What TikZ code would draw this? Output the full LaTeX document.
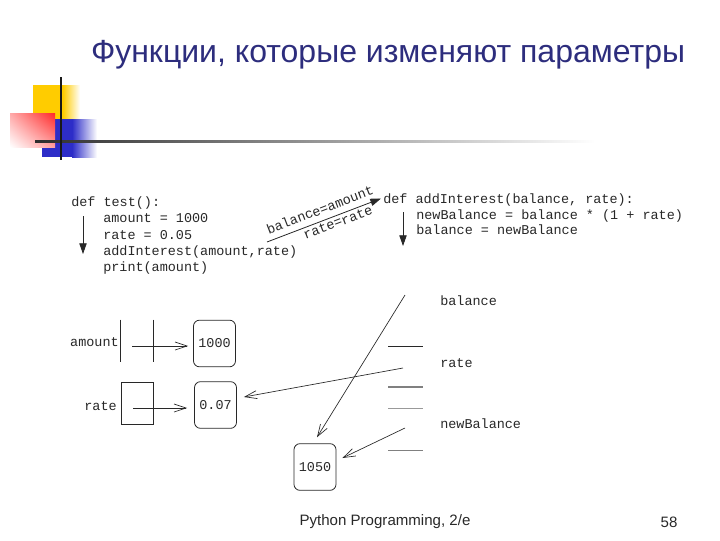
\documentclass[tikz,border=0pt]{standalone}
\usepackage{fontspec}
\setmainfont{Liberation Sans}
\newfontfamily\codefont{Liberation Mono}
\usetikzlibrary{arrows.meta,calc,shadings}
\definecolor{titleblue}{RGB}{45,45,125}
\definecolor{sqyellow}{RGB}{255,204,0}
\definecolor{sqred}{RGB}{255,40,40}
\definecolor{sqblue}{RGB}{45,45,200}
\definecolor{ink}{RGB}{40,40,40}
\begin{document}
\begin{tikzpicture}[x=0.75pt,y=-0.75pt,
  codefnt/.style={font=\codefont\fontsize{10.1}{12}\selectfont, text=ink, inner sep=0pt},
  code/.style={codefnt, anchor=base west},
  fillarrow/.style={draw=ink, line width=0.6pt, -{Triangle[length=8pt,width=5.5pt]}},
  openarrow/.style={draw=ink, line width=0.5pt, -{Straight Barb[length=9pt,width=6pt]}},
  valbox/.style={codefnt, draw=ink, line width=0.6pt, rounded corners=4.5pt, minimum width=31.5pt, minimum height=35pt},
  varbox/.style={inner sep=0pt, minimum width=24pt, minimum height=31.5pt},
  edge/.style={line width=0.6pt},
  foottext/.style={font=\fontsize{11.3}{13}\selectfont, text=ink}
]
\useasboundingbox (0,0) rectangle (720,540);
% decoration
\fill[sqyellow] (33,85) rectangle (63,120);
\shade[left color=sqyellow, right color=white] (63,85) rectangle (80,120);
\fill[sqblue] (42,119) rectangle (72,157);
\shade[left color=sqblue, right color=white] (72,119) rectangle (97,157);
\shade[upper left=sqred!40, upper right=sqred, lower left=white, lower right=sqred!45] (10,113) rectangle (55,147);
\shade[left color={rgb,255:red,45;green,45;blue,45}, middle color=gray!85, right color=white] (35,140) rectangle (595,142.2);
\draw[line width=2pt, black!90] (61,77) -- (61,160);
% title
\node[font=\fontsize{24}{28}\selectfont, text=titleblue, anchor=base, inner sep=0pt] (title) at (388,62) {Функции, которые изменяют параметры};
% left code
\node[code] (t1) at (71,206) {def test():};
\node[code] (t2) at (103,222) {amount = 1000};
\node[code] (t3) at (103,239) {rate = 0.05};
\node[code] (t4) at (103,255) {addInterest(amount,rate)};
\node[code] (t5) at (103,271) {print(amount)};
\coordinate (la1) at (83,216);
\coordinate (la2) at (83,254);
\draw[fillarrow] (la1) -- (la2);
% right code
\node[code] (a1) at (383,203.5) {def addInterest(balance, rate):};
\node[code] (a2) at (416,219) {newBalance = balance * (1 + rate)};
\node[code] (a3) at (416,234.5) {balance = newBalance};
\coordinate (ra1) at (403,212);
\coordinate (ra2) at (403,246);
\draw[fillarrow] (ra1) -- (ra2);
% call arrow
\coordinate (cs) at (267,242);
\coordinate (ce) at (381,198.5);
\draw[fillarrow] (cs) -- (ce)
  node[codefnt, pos=0.5, sloped, above=4.5pt] (lb1) {balance=amount}
  node[codefnt, pos=0.6, sloped, below=1.5pt] (lb2) {rate=rate};
% left variables
\node[code, anchor=east] (amtlbl) at (119,342) {amount};
\node[varbox] (amtbox) at (137,341) {};
\draw[edge, ink] (amtbox.north west) -- (amtbox.south west) (amtbox.north east) -- (amtbox.south east);
\node[code, anchor=east] (ratelbl) at (117,406) {rate};
\node[varbox, draw=ink, edge] (ratebox) at (137,403) {};
% values
\node[valbox] (v1) at (214.5,343.5) {1000};
\node[valbox] (v2) at (215.5,405) {0.07};
\node[valbox] (v3) at (315,467) {1050};
\draw[openarrow] ($(amtbox.center)+(-5,5)$) -- ($(v1.west)+(-5,2.5)$);
\draw[openarrow] ($(ratebox.center)+(-4,5)$) -- ($(v2.west)+(-7,3)$);
% right variables
\node[code, anchor=west] (ballbl) at (440,301) {balance};
\node[code, anchor=west] (ratelbl2) at (440,363) {rate};
\node[code, anchor=west] (nblbl) at (440,424) {newBalance};
\draw[edge, ink] (388,346) -- (423,346);
\draw[line width=1.2pt, gray] (388,387) -- (423,387);
\draw[edge, gray!80] (388,408) -- (423,408);
\draw[edge, gray] (388,450) -- (423,450);
\coordinate (bs) at (405,295);
\coordinate (rs) at (403,368);
\coordinate (ns) at (405,428);
\draw[openarrow] (bs) -- ($(v3.north)+(2,-6)$);
\draw[openarrow] (rs) -- ($(v2.east)+(7,-8)$);
\draw[openarrow] (ns) -- ($(v3.east)+(6,-9)$);
% footer
\node[foottext] (foot) at (385,522) {Python Programming, 2/e};
\node[foottext] (page) at (669,522) {58};
\end{tikzpicture}
\end{document}
